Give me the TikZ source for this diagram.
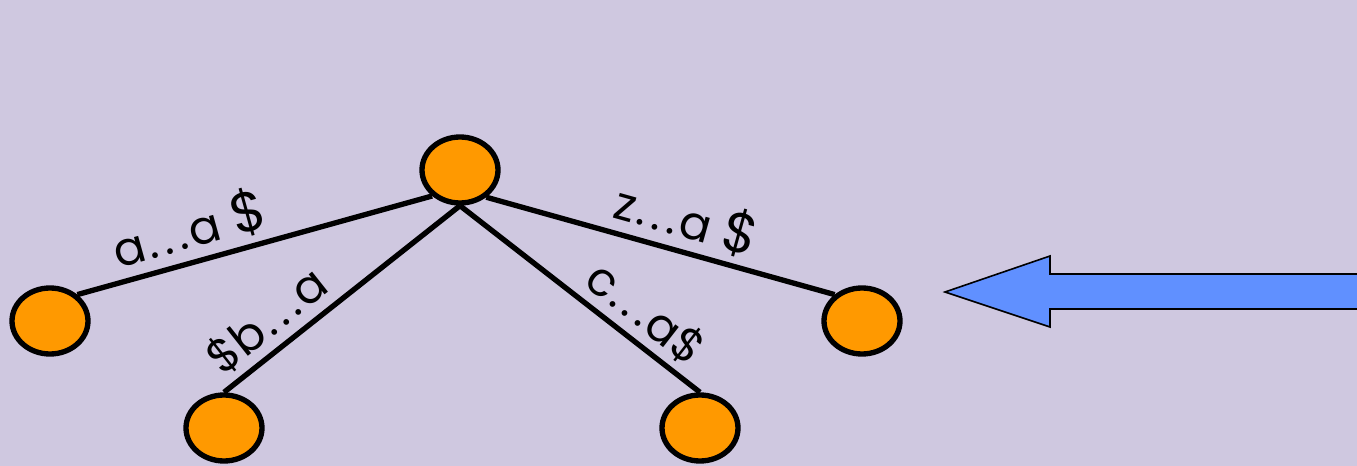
\documentclass[tikz,border=0pt]{standalone}
\usepackage{fontspec}
\setmainfont{Poppins}
\usetikzlibrary{shapes.geometric}
\definecolor{bg}{HTML}{CFC8E0}
\definecolor{nodeorange}{HTML}{FF9900}
\definecolor{arrowblue}{HTML}{6090FF}
\newcommand{\dd}{\kern2pt.\kern4.5pt.\kern4.5pt.\kern2pt}
\tikzset{
  treenode/.style={ellipse, draw=black, line width=4pt, fill=nodeorange,
    minimum width=57pt, minimum height=49.5pt, inner sep=0pt},
  edge/.style={draw=black, line width=4pt},
  lbl/.style={sloped, above, inner sep=5pt, font=\fontsize{35}{38}\selectfont},
  bigarrow/.style={fill=arrowblue, draw=black, line width=1.2pt, line join=miter}
}
\begin{document}
\begin{tikzpicture}[x=0.75pt,y=-0.75pt]
\fill[bg] (0,0) rectangle (1357,466);
\useasboundingbox (0,0) rectangle (1357,466);
\node[treenode] (top) at (460,170) {};
\node[treenode] (l) at (50,321) {};
\node[treenode] (bl) at (224,428) {};
\node[treenode] (br) at (700,428) {};
\node[treenode] (r) at (862,321) {};
\draw[edge] (l.44) -- node[lbl, pos=0.34] {a\dd a {\fontsize{42}{46}\selectfont\$}} (top.223);
\draw[edge] (bl.north) -- node[lbl, pos=0.26] {\$b\dd a} (top.south);
\draw[edge] (top.south) -- node[lbl, pos=0.7] {c\dd a\$} (br.north);
\draw[edge] (top.314) -- node[lbl, pos=0.55] {z\dd a {\fontsize{42}{46}\selectfont\$}} (r.136);
\coordinate (tip) at (945,292);
\draw[bigarrow] (tip) -- (1050,256) -- (1050,274) -- (1362,274) -- (1362,309) -- (1050,309) -- (1050,327) -- cycle;
\end{tikzpicture}
\end{document}
